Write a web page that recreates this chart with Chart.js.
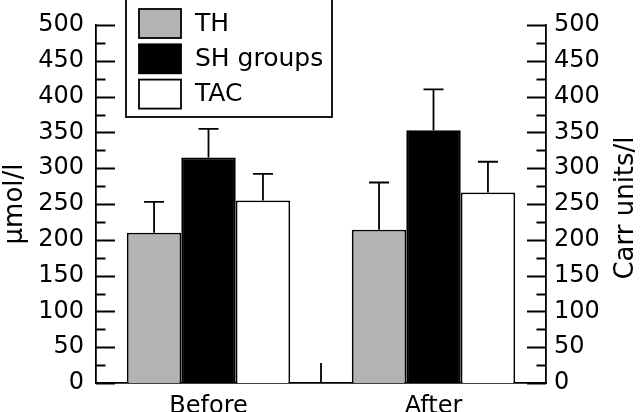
<!DOCTYPE html>
<html>
<head>
<meta charset="utf-8">
<script src="https://cdn.jsdelivr.net/npm/chart.js@4"></script>
<style>
  html, body { margin: 0; padding: 0; background: #fff; }
  #wrap { width: 640px; height: 412px; }
</style>
</head>
<body>
<div id="wrap"><canvas id="chart" width="640" height="412"></canvas></div>
<script>
const categories = ['Before', 'After'];
const seriesNames = ['TH', 'SH groups', 'TAC'];
const thValues = [210, 214];
const shValues = [315, 353];
const tacValues = [255, 266];
const thErrors = [43, 66];
const shErrors = [40, 57];
const tacErrors = [37, 43];
const yMin = 0, yMax = 500, yStep = 50, yMinorStep = 25;

const FONT = 'DejaVu Sans';

// error bars pointing up only, drawn above each bar
const errorBars = {
  id: 'errorBars',
  afterDatasetsDraw(chart) {
    const ctx = chart.ctx;
    const yScale = chart.scales.y;
    ctx.save();
    ctx.strokeStyle = '#000';
    ctx.lineWidth = 1.8;
    chart.data.datasets.forEach((ds, i) => {
      const meta = chart.getDatasetMeta(i);
      meta.data.forEach((bar, j) => {
        const top = yScale.getPixelForValue(ds.data[j] + ds.errors[j]);
        ctx.beginPath();
        ctx.moveTo(bar.x, bar.y);
        ctx.lineTo(bar.x, top);
        ctx.moveTo(bar.x - 10, top);
        ctx.lineTo(bar.x + 10, top);
        ctx.stroke();
      });
    });
    ctx.restore();
  }
};

// inward tick marks on both value axes + category divider
const innerTicks = {
  id: 'innerTicks',
  afterDraw(chart) {
    const ctx = chart.ctx;
    const area = chart.chartArea;
    const y = chart.scales.y;
    const x = chart.scales.x;
    ctx.save();
    ctx.strokeStyle = '#000';
    ctx.lineWidth = 1.8;
    ctx.beginPath();
    for (let v = yMin; v <= yMax; v += yMinorStep) {
      const py = Math.round(y.getPixelForValue(v)) + 0.5;
      const len = v % yStep === 0 ? 19 : 9.5;
      ctx.moveTo(area.left, py);
      ctx.lineTo(area.left + len, py);
      ctx.moveTo(area.right, py);
      ctx.lineTo(area.right - len, py);
    }
    const mid = (x.getPixelForValue(0) + x.getPixelForValue(1)) / 2;
    ctx.moveTo(mid, area.bottom);
    ctx.lineTo(mid, area.bottom - 20);
    ctx.stroke();
    ctx.restore();
  }
};

// framed legend sitting over the top of the plot
const boxLegend = {
  id: 'boxLegend',
  afterDraw(chart) {
    const ctx = chart.ctx;
    const left = 126, top = 0, w = 206, h = 117;
    ctx.save();
    ctx.fillStyle = '#fff';
    ctx.fillRect(left, top, w, h);
    ctx.strokeStyle = '#000';
    ctx.lineWidth = 1.8;
    ctx.strokeRect(left, top - 1, w, h + 1);
    ctx.font = '25px "' + FONT + '"';
    ctx.textBaseline = 'middle';
    chart.data.datasets.forEach((ds, i) => {
      const cy = 23 + i * 35.3;
      ctx.fillStyle = ds.backgroundColor;
      ctx.fillRect(139, cy - 14, 42, 29);
      ctx.strokeRect(139, cy - 14, 42, 29);
      ctx.fillStyle = '#000';
      ctx.fillText(ds.label, 195, cy + 1);
    });
    ctx.restore();
  }
};

// right-hand axis title reads bottom to top
const rightTitle = {
  id: 'rightTitle',
  afterDraw(chart) {
    const ctx = chart.ctx;
    const area = chart.chartArea;
    ctx.save();
    ctx.translate(626, (area.top + area.bottom) / 2 + 4);
    ctx.rotate(-Math.PI / 2);
    ctx.font = '26px "' + FONT + '"';
    ctx.fillStyle = '#000';
    ctx.textAlign = 'center';
    ctx.textBaseline = 'middle';
    ctx.fillText('Carr units/l', 0, 0);
    ctx.restore();
  }
};

const barColors = ['#b3b3b3', '#000000', '#ffffff'];

new Chart(document.getElementById('chart'), {
  type: 'bar',
  data: {
    labels: categories,
    datasets: [
      { label: seriesNames[0], data: thValues, errors: thErrors },
      { label: seriesNames[1], data: shValues, errors: shErrors },
      { label: seriesNames[2], data: tacValues, errors: tacErrors }
    ].map((ds, i) => Object.assign(ds, {
      backgroundColor: barColors[i],
      borderColor: '#000',
      borderWidth: 1.8,
      borderSkipped: 'start',
      barPercentage: 1,
      categoryPercentage: 0.726
    }))
  },
  options: {
    responsive: false,
    animation: false,
    layout: { padding: { top: 25, left: 0, right: 0, bottom: 0 } },
    plugins: {
      legend: { display: false },
      tooltip: { enabled: false }
    },
    scales: {
      x: {
        grid: { display: false },
        border: { display: true, color: '#000', width: 1.8 },
        ticks: { color: '#000', padding: 1, font: { family: FONT, size: 24 } },
        afterFit(scale) { scale.height = 29; }
      },
      y: {
        position: 'left',
        min: yMin, max: yMax,
        grid: { display: false },
        border: { display: true, color: '#000', width: 1.8 },
        ticks: { stepSize: yStep, color: '#000', padding: 4, font: { family: FONT, size: 24 } },
        title: {
          display: true, text: 'µmol/l', color: '#000',
          padding: { top: 0, bottom: 0 },
          font: { family: FONT, size: 26 }
        },
        afterFit(scale) { scale.width = 96; }
      },
      y2: {
        position: 'right',
        min: yMin, max: yMax,
        grid: { display: false },
        border: { display: true, color: '#000', width: 1.8 },
        ticks: { stepSize: yStep, color: '#000', padding: 0, font: { family: FONT, size: 24 } },
        afterFit(scale) { scale.width = 94; }
      }
    }
  },
  plugins: [errorBars, innerTicks, boxLegend, rightTitle]
});
</script>
</body>
</html>
